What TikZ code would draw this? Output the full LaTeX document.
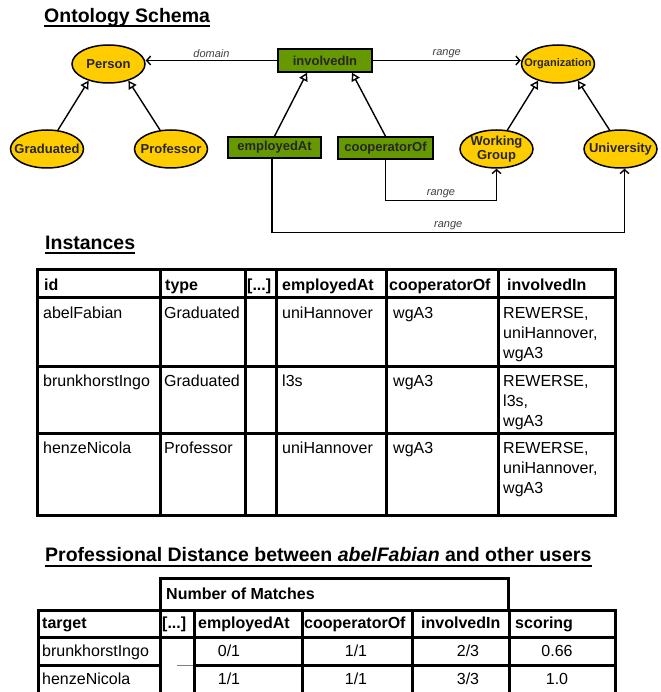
\documentclass[tikz,border=0pt]{standalone}
\usepackage{fontspec}
\setmainfont{Liberation Sans}
\usetikzlibrary{arrows.meta,calc,shapes.geometric,positioning}
\definecolor{clsyellow}{RGB}{255,204,0}
\definecolor{propgreen}{RGB}{102,153,0}
\tikzset{
    cls/.style={ellipse, draw, line width=1.5pt, fill=clsyellow, minimum width=73pt, minimum height=38pt, inner sep=0pt},
    clstext/.style={font=\bfseries\fontsize{13}{14}\selectfont, text=black!85, inner sep=0pt, align=center},
    prop/.style={rectangle, draw, line width=1.5pt, fill=propgreen, minimum width=93pt, minimum height=21pt, inner sep=0pt, font=\bfseries\fontsize{13}{14}\selectfont, text=black!85},
    isa/.style={-{Triangle[open,length=8pt,width=9pt]}, line width=1.4pt},
    rel/.style={-{Straight Barb[length=4pt,width=9pt]}, line width=1.4pt},
    lbl/.style={font=\itshape\fontsize{11}{11}\selectfont, text=black!75, inner sep=2pt},
    heading/.style={anchor=base west, inner sep=0pt, font=\bfseries\fontsize{19.5}{20}\selectfont},
    cell/.style={anchor=base west, inner sep=0pt, font=\fontsize{16}{20}\selectfont, align=left},
    hcell/.style={cell, font=\bfseries\fontsize{16}{20}\selectfont},
    num/.style={anchor=base, inner sep=0pt, font=\fontsize{16}{20}\selectfont},
    grid/.style={line width=3pt},
    uline/.style={line width=2pt}
}

\begin{document}
\begin{tikzpicture}[x=1pt,y=-1pt]
            \useasboundingbox (0,0) rectangle (660,692);
            \node[heading] at (44,22.7) (h1) {Ontology Schema};
            \draw[uline] ($(h1.base west)+(0,3.5)$) -- ($(h1.base east)+(0,3.5)$);
            \node[cls, label={[clstext]center:Person}] at (108.5,64) (person) {};
            \node[cls, label={[clstext]center:Graduated}] at (47,149) (grad) {};
            \node[cls, label={[clstext]center:Professor}] at (171,149) (prof) {};
            \node[prop, minimum width=94pt, minimum height=23pt] at (325,60.5) (inv) {involvedIn};
            \node[prop] at (274.5,147.5) (empl) {employedAt};
            \node[prop, minimum width=95pt, minimum height=22pt] at (385.5,148) (coop) {cooperatorOf};
            \node[cls, label={[clstext, font=\bfseries\fontsize{11}{12}\selectfont]center:Organization}] at (558,64) (org) {};
            \node[cls, label={[clstext]center:{Working\\Group}}] at (496.5,149) (wg) {};
            \node[cls, label={[clstext]center:University}] at (620.5,149) (uni) {};
            \draw[isa] (grad.60) -- (person.220);
            \draw[isa] (prof.120) -- (person.320);
            \draw[isa] (empl.north) -- ($(inv.south)+(-18,0)$);
            \draw[isa] (coop.north) -- ($(inv.south)+(27,0)$);
            \draw[isa] (wg.60) -- (org.220);
            \draw[isa] (uni.120) -- (org.320);
            \draw[rel] (inv.west) -- (inv.west -| person.east) node[lbl, midway, above] (dom) {domain};
            \draw[rel] (inv.east) -- (inv.east -| org.west) node[lbl, midway, above] (rg1) {range};
            \draw[rel] (coop.south) -- ++(0,41) -| node[lbl, pos=0.25, above] (rg2) {range} (wg.south);
            \draw[rel] ($(empl.south)+(-2.5,0)$) -- ++(0,74) -| node[lbl, pos=0.25, above] (rg3) {range} ($(uni.south)+(4,0)$);
            \node[heading] at (45,250) (h2) {Instances};
            \draw[uline] ($(h2.base west)+(0,3.5)$) -- ($(h2.base east)+(0,3.5)$);
            \draw[grid] (37,269) rectangle (615,515);
            \foreach \y in {297,366,433}
            \draw[grid] (37,\y) -- (615,\y);
            \foreach \x in {160,245,276,386,498}
            \draw[grid] (\x,269) -- (\x,515);
            \foreach \x/\t [count=\n] in {44/id,165/type,247/{[...]},282/employedAt,389/cooperatorOf,507/involvedIn}
            \node[hcell] at (\x,290) (ih\n) {\t};
            \foreach \y/\id/\type/\emp/\inv [count=\n] in {318/abelFabian/Graduated/uniHannover/{REWERSE,\\uniHannover,\\wgA3},386/brunkhorstIngo/Graduated/l3s/{REWERSE,\\l3s,\\wgA3},453/henzeNicola/Professor/uniHannover/{REWERSE,\\uniHannover,\\wgA3}}{
            \node[cell] at (43,\y) (iid\n) {\id};
            \node[cell] at (164,\y) (itype\n) {\type};
            \node[cell] at (282,\y) (iemp\n) {\emp};
            \node[cell] at (393,\y) (icoop\n) {wgA3};
            \node[cell] at (503,\y+40) (iinv\n) {\inv};
            }
            \node[heading] at (45,561.7) (h3) {Professional Distance between \textit{abelFabian} and other users};
            \draw[uline] ($(h3.base west)+(0,4)$) -- ($(h3.base east)+(0,4)$);
            \draw[grid] (160,610) -- (160,578) -- (508.5,578) -- (508.5,610);
            \node[hcell] at (166,599) (nm) {Number of Matches};
            \draw[grid] (38,700) -- (38,610) -- (615,610) -- (615,700);
            \draw[grid] (38,637) -- (615,637);
            \draw[grid] (38,665) -- (160,665);
            \draw[grid] (194,665) -- (615,665);
            \draw[line width=0.8pt, gray] (177,665) -- (194,665);
            \foreach \x in {160,194,302,412,509}
            \draw[grid] (\x,610) -- (\x,700);
            \foreach \x/\t [count=\n] in {42/target,162/{[...]},198/employedAt,304/cooperatorOf,421/involvedIn,515/scoring}
            \node[hcell] at (\x,628) (dh\n) {\t};
            \foreach \y/\id/\emp/\coop/\inv/\sc [count=\n] in {656/brunkhorstIngo/0\slash 1/1\slash 1/2\slash 3/0.66,684/henzeNicola/1\slash 1/1\slash 1/3\slash 3/1.0}{
            \node[cell] at (42,\y) (did\n) {\id};
            \node[num] at (229,\y) (demp\n) {\emp};
            \node[num] at (356,\y) (dcoop\n) {\coop};
            \node[num] at (468,\y) (dinv\n) {\inv};
            \node[num] at (557,\y) (dsc\n) {\sc};
            }
\end{tikzpicture}
\end{document}
